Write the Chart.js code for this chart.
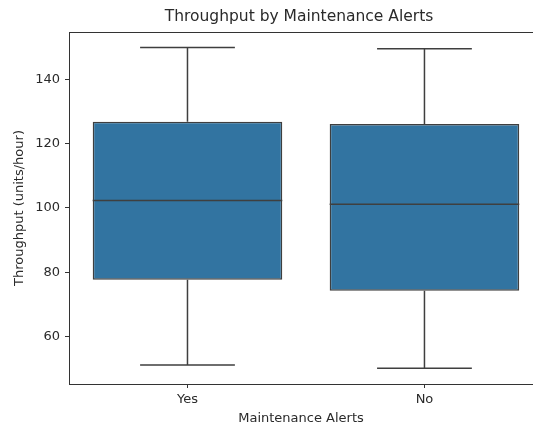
<!DOCTYPE html>
<html>
<head>
<meta charset="utf-8">
<script src="https://cdn.jsdelivr.net/npm/chart.js@4.4.0/dist/chart.umd.min.js"></script>
<style>
  html, body { margin: 0; padding: 0; background: #fff; overflow: hidden; }
</style>
</head>
<body>
<canvas id="c" width="533" height="426"></canvas>
<script>
const chartTitle = 'Throughput by Maintenance Alerts';
const xAxisTitle = 'Maintenance Alerts';
const yAxisTitle = 'Throughput (units/hour)';
const categories = ['Yes', 'No'];
const whiskerLow = [51.2, 50.2];
const q1 = [77.7, 74.3];
const median = [102.3, 101.2];
const q3 = [126.8, 126.1];
const whiskerHigh = [149.9, 149.5];
const yTicks = [60, 80, 100, 120, 140];

const boxFill = '#3274a1';
const lineColor = '#3f3f3f';
const axisColor = '#333333';
const textColor = '#2a2a2a';
const fontFamily = '"DejaVu Sans", sans-serif';

const boxPlugin = {
  id: 'boxParts',
  afterDatasetsDraw(chart) {
    const ctx = chart.ctx;
    const x = chart.scales.x, y = chart.scales.y;
    const meta = chart.getDatasetMeta(0);
    ctx.save();
    ctx.strokeStyle = lineColor;
    ctx.lineWidth = 1.5;
    categories.forEach((c, i) => {
      const bar = meta.data[i];
      const cx = x.getPixelForValue(i);
      const half = bar.width / 2;
      const capHalf = half / 2;
      const pLow = y.getPixelForValue(whiskerLow[i]);
      const pQ1 = y.getPixelForValue(q1[i]);
      const pQ3 = y.getPixelForValue(q3[i]);
      const pHigh = y.getPixelForValue(whiskerHigh[i]);
      const pMed = y.getPixelForValue(median[i]);
      ctx.beginPath();
      ctx.moveTo(cx, pQ3); ctx.lineTo(cx, pHigh);
      ctx.moveTo(cx - capHalf, pHigh); ctx.lineTo(cx + capHalf, pHigh);
      ctx.moveTo(cx, pQ1); ctx.lineTo(cx, pLow);
      ctx.moveTo(cx - capHalf, pLow); ctx.lineTo(cx + capHalf, pLow);
      ctx.moveTo(cx - half, pMed); ctx.lineTo(cx + half, pMed);
      ctx.stroke();
    });
    ctx.restore();
  },
  afterDraw(chart) {
    const ctx = chart.ctx;
    const a = chart.chartArea;
    const x = chart.scales.x;
    ctx.save();
    ctx.fillStyle = '#ffffff';
    ctx.fillRect(a.right - 4, a.top + 2, chart.width - a.right + 10, a.bottom - a.top - 3);
    ctx.strokeStyle = axisColor;
    ctx.lineWidth = 1;
    ctx.beginPath();
    ctx.moveTo(a.left, a.top + 0.5); ctx.lineTo(chart.width, a.top + 0.5);
    ctx.moveTo(a.left, a.bottom + 0.5); ctx.lineTo(chart.width, a.bottom + 0.5);
    categories.forEach((c, i) => {
      const px = Math.round(x.getPixelForValue(i)) + 0.5;
      ctx.moveTo(px, a.bottom); ctx.lineTo(px, a.bottom + 4);
    });
    ctx.stroke();
    ctx.fillStyle = textColor;
    ctx.font = '15.5px ' + fontFamily;
    ctx.textAlign = 'center';
    ctx.textBaseline = 'middle';
    ctx.fillText(chartTitle, 299, 17);
    ctx.restore();
  }
};

new Chart(document.getElementById('c'), {
  type: 'bar',
  data: {
    datasets: [{
      data: categories.map((c, i) => ({ x: i, y: [q1[i], q3[i]] })),
      backgroundColor: boxFill,
      borderColor: lineColor,
      borderWidth: 1.5,
      borderSkipped: false,
      barPercentage: 0.8,
      categoryPercentage: 1.0
    }]
  },
  options: {
    responsive: false,
    animation: false,
    layout: { padding: { top: 32, right: 0, left: 0, bottom: 0 } },
    plugins: { legend: { display: false }, tooltip: { enabled: false }, title: { display: false } },
    scales: {
      x: {
        type: 'linear',
        offset: false,
        min: -0.5,
        max: 1.458,
        afterBuildTicks(s) { s.ticks = categories.map((c, i) => ({ value: i })); },
        grid: { display: false, drawTicks: false, tickLength: 4 },
        border: { display: true, color: axisColor, width: 1 },
        ticks: { color: textColor, font: { family: fontFamily, size: 13 }, padding: 8, autoSkip: false, maxRotation: 0,
                 callback: (v) => categories[v] },
        title: { display: true, text: xAxisTitle, color: textColor, font: { family: fontFamily, size: 13 }, padding: { top: 0, bottom: 0 } },
        afterFit(s) { s.height = 42; }
      },
      y: {
        min: 45.3,
        max: 154.7,
        afterBuildTicks(s) { s.ticks = yTicks.map(v => ({ value: v })); },
        grid: { display: true, drawOnChartArea: false, drawTicks: true, tickLength: 4, color: axisColor },
        border: { display: true, color: axisColor, width: 1 },
        ticks: { color: textColor, font: { family: fontFamily, size: 13 }, padding: 5 },
        title: { display: true, text: yAxisTitle, color: textColor, font: { family: fontFamily, size: 13 }, padding: { top: 12, bottom: 0 } },
        afterFit(s) { s.width = 69; }
      }
    }
  },
  plugins: [boxPlugin]
});
</script>
</body>
</html>
